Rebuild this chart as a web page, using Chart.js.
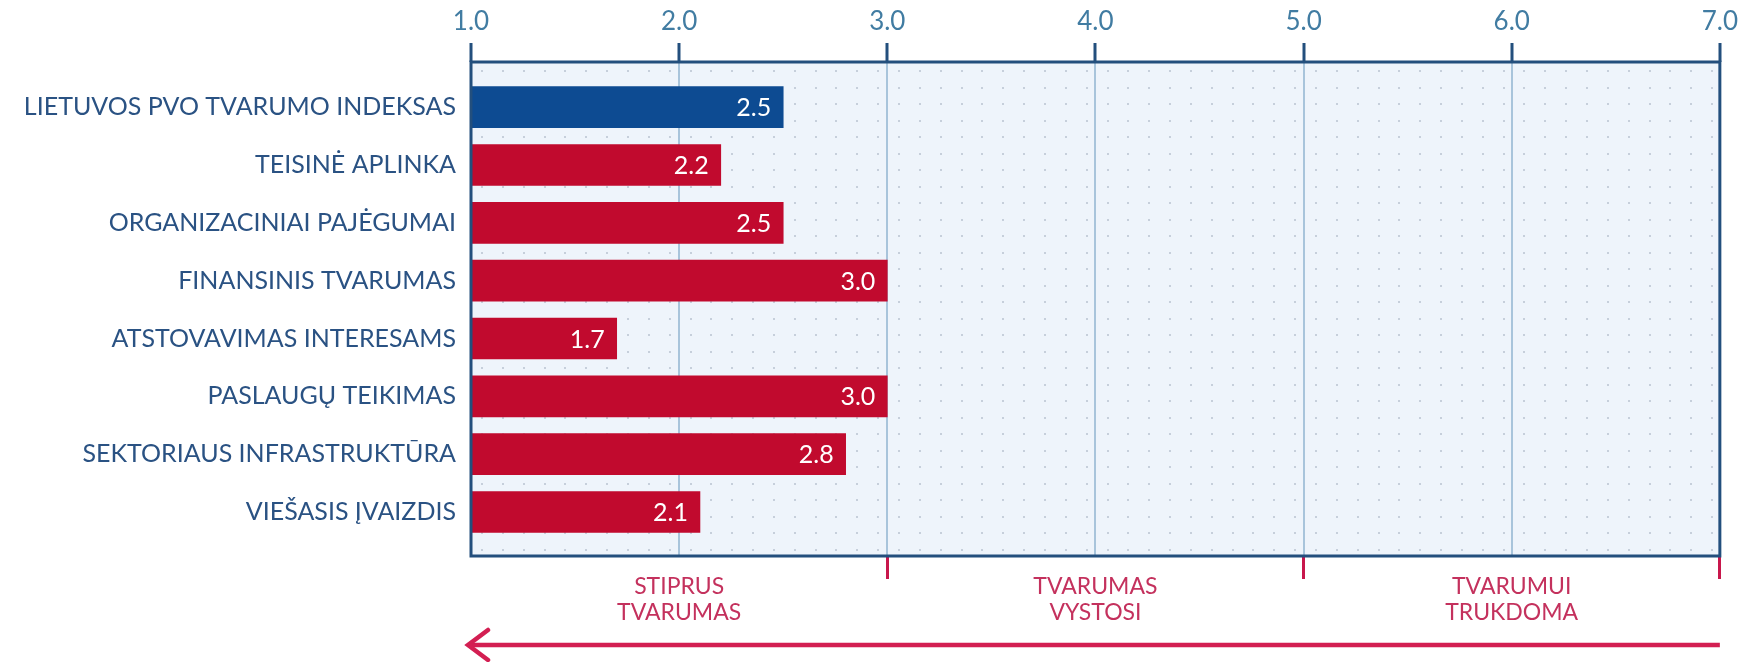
<!DOCTYPE html>
<html>
<head>
<meta charset="utf-8">
<script src="https://cdn.jsdelivr.net/npm/chart.js@4.4.1/dist/chart.umd.min.js"></script>
<style>
  html, body { margin: 0; padding: 0; background: #fff; }
  #wrap { width: 1744px; height: 662px; }
</style>
</head>
<body>
<div id="wrap"><canvas id="indexChart" width="1744" height="662"></canvas></div>
<script>
// ---------------- DATA ----------------
const categories = [
  "LIETUVOS PVO TVARUMO INDEKSAS",
  "TEISINĖ APLINKA",
  "ORGANIZACINIAI PAJĖGUMAI",
  "FINANSINIS TVARUMAS",
  "ATSTOVAVIMAS INTERESAMS",
  "PASLAUGŲ TEIKIMAS",
  "SEKTORIAUS INFRASTRUKTŪRA",
  "VIEŠASIS ĮVAIZDIS"
];
const scores = [2.5, 2.2, 2.5, 3.0, 1.7, 3.0, 2.8, 2.1];
const xTicks = [1, 2, 3, 4, 5, 6, 7];
const zoneCenters = [2, 4, 6];
const zoneNames = [["STIPRUS", "TVARUMAS"], ["TVARUMAS", "VYSTOSI"], ["TVARUMUI", "TRUKDOMA"]];
const zoneBounds = [3, 5, 7];

// ---------------- STYLE ----------------
const NAVY = "#234f7d";
const BLUE_BAR = "#0d4b92";
const RED_BAR = "#c10a2e";
const ZONE_RED = "#c4315d";
const ARROW_RED = "#d31f52";
const FONT = "Lato, 'Open Sans', sans-serif";

const barColors = scores.map((v, i) => i === 0 ? BLUE_BAR : RED_BAR);

// background with dots + frame + value labels + arrow
const decorPlugin = {
  id: "decor",
  beforeDraw(chart) {
    const { ctx, chartArea: a } = chart;
    ctx.save();
    ctx.fillStyle = "#eef4fb";
    ctx.fillRect(a.left, a.top, a.right - a.left, a.bottom - a.top);
    ctx.fillStyle = "#c6cfdb";
    for (let y = a.top + 8; y < a.bottom - 2; y += 16.5) {
      for (let x = a.left + 10; x < a.right - 2; x += 20.85) {
        ctx.fillRect(Math.round(x), Math.round(y), 2, 2);
      }
    }
    ctx.restore();
  },
  afterDatasetsDraw(chart) {
    const { ctx, chartArea: a } = chart;
    const meta = chart.getDatasetMeta(0);
    ctx.save();
    // value labels
    ctx.fillStyle = "#ffffff";
    ctx.font = "25px " + FONT;
    ctx.textAlign = "right";
    ctx.textBaseline = "middle";
    meta.data.forEach((bar, i) => {
      ctx.fillText(scores[i].toFixed(1), bar.x - 12, bar.y + 1);
    });
    // frame
    ctx.strokeStyle = NAVY;
    ctx.lineWidth = 3;
    ctx.strokeRect(a.left, a.top, a.right - a.left, a.bottom - a.top);
    ctx.restore();
  },
  afterDraw(chart) {
    const { ctx } = chart;
    const xs = chart.scales.x;
    const x0 = xs.getPixelForValue(xTicks[0]) - 3;
    const x1 = xs.getPixelForValue(xTicks[xTicks.length - 1]);
    const y = 645;
    ctx.save();
    ctx.strokeStyle = ARROW_RED;
    ctx.lineWidth = 4.5;
    ctx.lineCap = "butt";
    ctx.beginPath();
    ctx.moveTo(x1, y);
    ctx.lineTo(x0 + 2, y);
    ctx.stroke();
    ctx.lineCap = "round";
    ctx.beginPath();
    ctx.moveTo(x0 + 20, y - 15);
    ctx.lineTo(x0, y);
    ctx.lineTo(x0 + 20, y + 15);
    ctx.stroke();
    ctx.restore();
  }
};

new Chart(document.getElementById("indexChart").getContext("2d"), {
  type: "bar",
  data: {
    datasets: [{
      data: scores.map((v, i) => ({ x: v, y: i })),
      backgroundColor: barColors,
      base: 1,
      barThickness: 41,
      borderWidth: 0
    }]
  },
  options: {
    indexAxis: "y",
    responsive: false,
    animation: false,
    layout: { padding: { left: 0, right: 21, top: 0, bottom: 0 } },
    plugins: {
      legend: { display: false },
      tooltip: { enabled: false }
    },
    scales: {
      x: {
        type: "linear",
        position: "top",
        min: 1,
        max: 7,
        afterBuildTicks: s => { s.ticks = xTicks.map(v => ({ value: v })); },
        afterFit: s => { s.height = 62; },
        ticks: {
          callback: v => Number(v).toFixed(1),
          color: "#417ca2",
          font: { family: FONT, size: 26 },
          padding: 6,
          maxRotation: 0
        },
        grid: {
          color: c => (c.tick && c.tick.value > 1 && c.tick.value < 7) ? "#a8c4db" : "rgba(0,0,0,0)",
          lineWidth: 2,
          tickColor: NAVY,
          tickWidth: 3,
          tickLength: 19
        },
        border: { display: false }
      },
      x2: {
        type: "linear",
        position: "bottom",
        min: 1,
        max: 7,
        afterBuildTicks: s => { s.ticks = xTicks.map(v => ({ value: v })); },
        afterFit: s => { s.height = 106; },
        ticks: {
          callback: v => {
            const k = zoneCenters.indexOf(v);
            return k >= 0 ? zoneNames[k] : "";
          },
          color: ZONE_RED,
          font: { family: FONT, size: 23, lineHeight: 1.13 },
          padding: -5,
          maxRotation: 0,
          autoSkip: false
        },
        grid: {
          drawOnChartArea: false,
          tickColor: c => (c.tick && zoneBounds.includes(c.tick.value)) ? "#c8174c" : "rgba(0,0,0,0)",
          tickWidth: 3,
          tickLength: 23
        },
        border: { display: false }
      },
      y: {
        type: "linear",
        reverse: true,
        offset: false,
        min: -0.78,
        max: 7.76,
        afterBuildTicks: s => { s.ticks = categories.map((c, i) => ({ value: i })); },
        afterFit: s => { s.width = 471; },
        ticks: {
          callback: v => categories[v] || "",
          color: "#2a5283",
          font: { family: FONT, size: 25 },
          padding: 15,
          autoSkip: false
        },
        grid: { display: false, drawTicks: false, offset: false },
        border: { display: false }
      }
    }
  },
  plugins: [decorPlugin]
});
</script>
</body>
</html>
